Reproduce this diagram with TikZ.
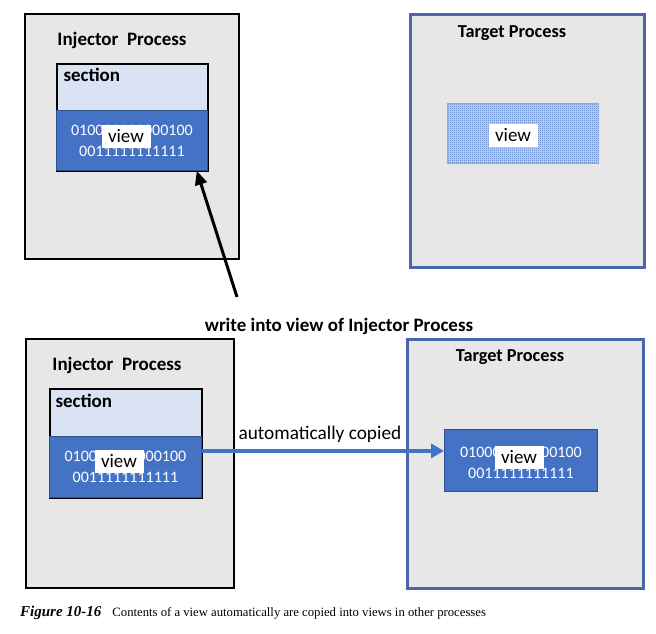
\documentclass[tikz,border=0pt]{standalone}
\usepackage{fontspec}
\setmainfont{Carlito}
\newfontfamily\capfont{Liberation Serif}
\usepackage{tikz}
\usetikzlibrary{positioning}
\usetikzlibrary{calc, patterns}
\usetikzlibrary{arrows.meta}

\definecolor{procgray}{HTML}{E7E7E7}
\definecolor{secblue}{HTML}{DAE3F3}
\definecolor{viewblue}{HTML}{4472C4}
\definecolor{tgtblue}{HTML}{4A67AC}

% fine checker for the empty view
\pgfdeclarepatternformonly{viewcheck}{\pgfpointorigin}{\pgfpoint{2pt}{2pt}}{\pgfpoint{2pt}{2pt}}{%
    \pgfpathrectangle{\pgfpointorigin}{\pgfpoint{1pt}{1pt}}%
    \pgfpathrectangle{\pgfpoint{1pt}{1pt}}{\pgfpoint{1pt}{1pt}}%
    \pgfusepath{fill}}

\begin{document}
\begin{tikzpicture}[x=1pt, y=-1pt,
        proc/.style={draw, line width=2.2pt, fill=procgray, anchor=north west, inner sep=0pt},
        tgt/.style={proc, draw=tgtblue, line width=2.6pt},
        sect/.style={draw, line width=1.8pt, fill=secblue, anchor=north west, inner sep=0pt},
        viewarea/.style={draw=viewblue!70!black, line width=0.8pt, fill=viewblue, anchor=north west, inner sep=0pt},
        bits/.style={text=white, font=\fontsize{16}{21}\selectfont, align=center, inner sep=0pt},
        viewlbl/.style={fill=white, font=\fontsize{19}{19}\selectfont, inner sep=0pt, minimum width=49pt, minimum height=23pt},
        title/.style={font=\bfseries\fontsize{19}{22}\selectfont}]

    \useasboundingbox (0,0) rectangle (656,633);

    % before the write
    \node[proc, minimum width=214pt, minimum height=245pt] (injA) at (24,13) {};
    \node[title] (injAlbl) at (122,40) {Injector\ \ Process};
    \node[sect, minimum width=151pt, minimum height=107pt] (secA) at (56,63) {};
    \node[title, anchor=west] (secAlbl) at (60,75) {section};
    \node[viewarea, minimum width=151pt, minimum height=60pt] (viewA) at (56,110) {};
    \node[bits] (bitsA) at (viewA.center) {010000100000100\\0011111111111};
    \node[viewlbl] (viewAlbl) at (126,136) {view};

    \node[tgt, minimum width=234pt, minimum height=253pt] (tgtA) at (409,13) {};
    \node[title, font=\bfseries\fontsize{18.3}{22}\selectfont] (tgtAlbl) at (512,33) {Target Process};
    \node[draw=viewblue!60, line width=0.6pt, preaction={fill=viewblue!30}, pattern=viewcheck,
        pattern color=viewblue, anchor=north west, inner sep=0pt,
        minimum width=151pt, minimum height=60pt] (viewT) at (447,103) {};
    \node[viewlbl] (viewTlbl) at (513,135) {view};

    \coordinate (wtail) at (237,297);
    \draw[-{Triangle[length=14pt, width=12pt]}, line width=3pt] (wtail) -- ($(viewA.south east)+(-11,0)$);

    \node[title] (wlbl) at (339,326) {write into view of Injector Process};

    % after the write
    \node[proc, minimum width=208pt, minimum height=249pt] (injB) at (25,338) {};
    \node[title] (injBlbl) at (117,365) {Injector\ \ Process};
    \node[sect, minimum width=152pt, minimum height=109pt] (secB) at (49,388) {};
    \node[title, anchor=west] (secBlbl) at (52,401) {section};
    \node[viewarea, minimum width=152pt, minimum height=61pt] (viewB) at (49,436) {};
    \node[bits] (bitsB) at (viewB.center) {010000100000100\\0011111111111};
    \node[viewlbl] (viewBlbl) at (119,461) {view};

    \node[tgt, minimum width=236pt, minimum height=249pt] (tgtB) at (406,338) {};
    \node[title, font=\bfseries\fontsize{18.3}{22}\selectfont] (tgtBlbl) at (510,357) {Target Process};
    \node[viewarea, minimum width=153pt, minimum height=62pt] (viewC) at (444,429) {};
    \node[bits] (bitsC) at ($(viewC.center)+(0,2)$) {010000100000100\\0011111111111};
    \node[viewlbl] (viewClbl) at (519,457) {view};

    \coordinate (cpfrom) at ($(viewB.east)+(0,-16)$);
    \draw[-{Triangle[length=13pt, width=14pt]}, line width=3.6pt, draw=viewblue] (cpfrom) -- (cpfrom -| viewC.west)
        node[midway, above=3pt, xshift=-3pt, font=\fontsize{19.3}{22}\selectfont, text=black] (cplbl) {automatically copied};

    % caption
    \node[anchor=base west, inner sep=0pt] (cap) at (20,616)
        {\capfont\fontsize{15}{16}\selectfont\textbf{\textit{Figure 10-16}}\hspace{11pt}\fontsize{12.7}{14}\selectfont Contents of a view automatically are copied into views in other processes};

\end{tikzpicture}
\end{document}
